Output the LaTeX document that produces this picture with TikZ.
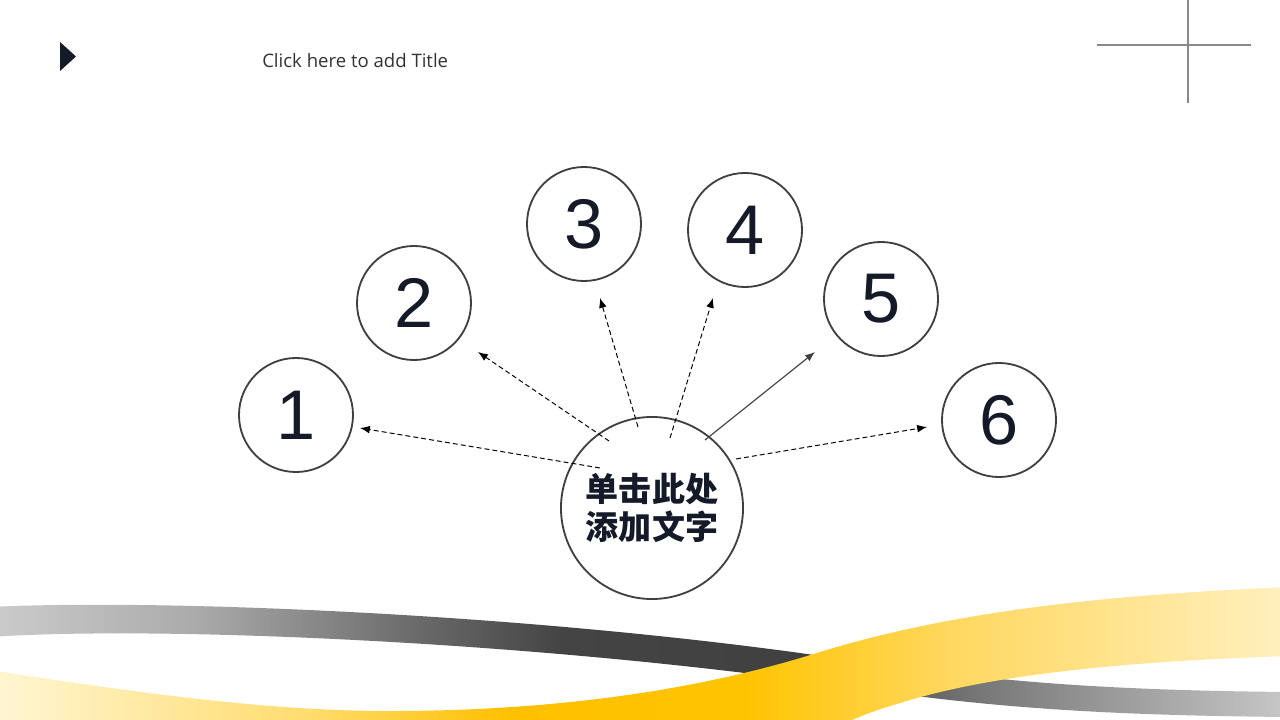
\documentclass[tikz,border=0pt]{standalone}
\usepackage{fontspec}
\setmainfont{Liberation Sans}
\newfontfamily\cjk{Noto Sans CJK SC}
\newfontfamily\titlefont{Open Sans}
\usetikzlibrary{arrows.meta}
\definecolor{navy}{HTML}{141A28}
\definecolor{cgray}{HTML}{404040}
\definecolor{linegray}{HTML}{8A8A8A}
\definecolor{ga}{HTML}{CCCCCC}
\definecolor{gb}{HTML}{AAAAAA}
\definecolor{gc}{HTML}{666666}
\definecolor{gd}{HTML}{444444}
\definecolor{gee}{HTML}{404040}
\definecolor{gf}{HTML}{777777}
\definecolor{gg}{HTML}{C8C8C8}
\definecolor{ya}{HTML}{FFF6D5}
\definecolor{yb}{HTML}{FFDD70}
\definecolor{yc}{HTML}{FFC000}
\definecolor{yd}{HTML}{FFC400}
\definecolor{ye}{HTML}{FFD860}
\definecolor{yf}{HTML}{FFF0C0}
\pgfdeclarehorizontalshading{grayrib}{100bp}{color(0bp)=(ga); color(25bp)=(ga); color(33bp)=(gb); color(42bp)=(gc); color(47bp)=(gd); color(57bp)=(gee); color(63bp)=(gf); color(75bp)=(gg); color(100bp)=(gg)}
\pgfdeclarehorizontalshading{yellowrib}{100bp}{color(0bp)=(ya); color(25bp)=(ya); color(37bp)=(yb); color(45bp)=(yc); color(54bp)=(yd); color(62bp)=(ye); color(75bp)=(yf); color(100bp)=(yf)}
\tikzset{
  numcirc/.style={circle, draw=cgray, line width=1.3pt, minimum size=2.85cm, inner sep=0pt,
    font=\fontsize{50}{50}\selectfont, text=navy},
  maincirc/.style={circle, draw=cgray, line width=1.3pt, minimum size=4.55cm, inner sep=0pt,
    font=\cjk\bfseries\fontsize{23.5}{27}\selectfont, text=navy, align=center},
  dasharrow/.style={draw=black, line width=0.7pt, dash pattern=on 3.5pt off 2.2pt,
    -{Latex[length=7pt,width=5.5pt]}},
  solidarrow/.style={draw=cgray, line width=0.8pt, -{Latex[length=7pt,width=5.5pt]}},
}
\begin{document}
\begin{tikzpicture}[x=0.025cm,y=-0.025cm]
\useasboundingbox (0,0) rectangle (1280,720);
\fill[white] (0,0) rectangle (1280,720);
% ribbons
\begin{scope}
\clip (0,0) rectangle (1280,720);
\path[shading=grayrib]
  (-10,607) .. controls (150,599) and (500,612) .. (800,653)
  .. controls (950,675) and (1050,690) .. (1290,692)
  -- (1290,717)
  .. controls (1050,715) and (950,702) .. (800,680)
  .. controls (500,640) and (150,626) .. (-10,637) -- cycle;
\path[shading=yellowrib]
  (-10,670) .. controls (150,695) and (280,712) .. (400,711)
  .. controls (560,710) and (700,690) .. (820,652)
  .. controls (950,612) and (1100,595) .. (1290,587)
  -- (1290,656)
  .. controls (1100,662) and (980,678) .. (900,703)
  .. controls (870,712) and (855,718) .. (840,726)
  -- (800,760) -- (-10,760) -- cycle;
\end{scope}
% header
\fill[navy] (60,42) -- (76,56.5) -- (60,71) -- cycle;
\node[anchor=west, inner sep=0pt, font=\titlefont\fontsize{13.2}{16}\selectfont, text=black!80] (title) at (262,61) {Click here to add Title};
\draw[linegray, line width=0.8pt] (1097,45) -- (1251,45);
\draw[linegray, line width=0.8pt] (1188,0) -- (1188,103);
% circles
\node[maincirc] (c) at (652,508) {单击此处\\添加文字};
\node[numcirc] (n1) at (296,415) {1};
\node[numcirc] (n2) at (414,303) {2};
\node[numcirc] (n3) at (584,224) {3};
\node[numcirc] (n4) at (745,230) {4};
\node[numcirc] (n5) at (881,299) {5};
\node[numcirc] (n6) at (999,420) {6};
% arrow ends
\coordinate (s1) at (600,468); \coordinate (e1) at (360,428);
\coordinate (s2) at (609,441); \coordinate (e2) at (478,352);
\coordinate (s3) at (638,427); \coordinate (e3) at (600,298);
\coordinate (s4) at (670,438); \coordinate (e4) at (713,298);
\coordinate (s5) at (705,440); \coordinate (e5) at (815,352);
\coordinate (s6) at (736,459); \coordinate (e6) at (927,427);
\draw[dasharrow] (s1) -- (e1);
\draw[dasharrow] (s2) -- (e2);
\draw[dasharrow] (s3) -- (e3);
\draw[dasharrow] (s4) -- (e4);
\draw[solidarrow] (s5) -- (e5);
\draw[dasharrow] (s6) -- (e6);
\end{tikzpicture}
\end{document}
